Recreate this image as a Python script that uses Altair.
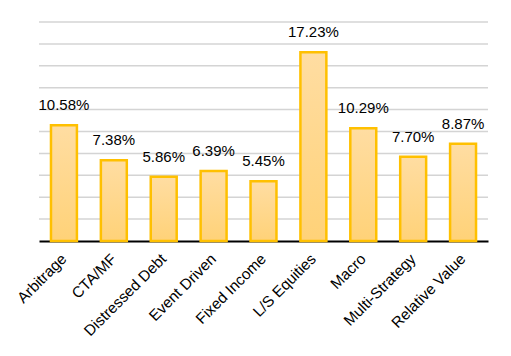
import altair as alt
import pandas as pd

categories = ["Arbitrage", "CTA/MF", "Distressed Debt", "Event Driven", "Fixed Income",
              "L/S Equities", "Macro", "Multi-Strategy", "Relative Value"]
values = [10.58, 7.38, 5.86, 6.39, 5.45, 17.23, 10.29, 7.70, 8.87]
grid_values = [2, 4, 6, 8, 10, 12, 14, 16, 18, 20]

df = pd.DataFrame({"cat": categories, "val": values})
df["label"] = [f"{v:.2f}%" for v in values]
grid_df = pd.DataFrame({"g": grid_values})

FONT = "Liberation Sans"
yscale = alt.Scale(domain=[0, 20], nice=False)

grid = alt.Chart(grid_df).mark_rule(color="#D4D4D4", strokeWidth=1.5).encode(
    y=alt.Y("g:Q", scale=yscale, title=None,
            axis=alt.Axis(labels=False, ticks=False, domain=False, grid=False))
)

x = alt.X("cat:N", sort=categories, title=None,
          scale=alt.Scale(paddingInner=0.48, paddingOuter=0.24),
          axis=alt.Axis(labelAngle=-45, labelAlign="right", labelBaseline="middle",
                        labelFontSize=15.3, labelFont=FONT, labelColor="#000000",
                        labelPadding=15, ticks=False, domainColor="#000000",
                        domainWidth=2, grid=False, labelOverlap=False))

bars = alt.Chart(df).mark_bar(
    stroke="#FFC000", strokeWidth=2.5,
    color=alt.Gradient(gradient="linear", x1=0, y1=0, x2=0, y2=1,
                       stops=[alt.GradientStop(offset=0, color="#FFDDA2"),
                              alt.GradientStop(offset=1, color="#FFD278")])
).encode(x=x, y=alt.Y("val:Q", scale=yscale))

text = alt.Chart(df).mark_text(
    baseline="bottom", dy=-12, fontSize=15, font=FONT, color="#000000"
).encode(x=alt.X("cat:N", sort=categories), y=alt.Y("val:Q", scale=yscale), text="label:N")

chart = (grid + bars + text).properties(
    width=449, height=219,
    padding={"left": 31, "top": 14, "right": 15, "bottom": 107},
    autosize=alt.AutoSizeParams(type="none"),
    background="#FFFFFF"
).configure_view(stroke=None)

chart.save("out.html", embed_options={"renderer": "svg", "actions": False})
